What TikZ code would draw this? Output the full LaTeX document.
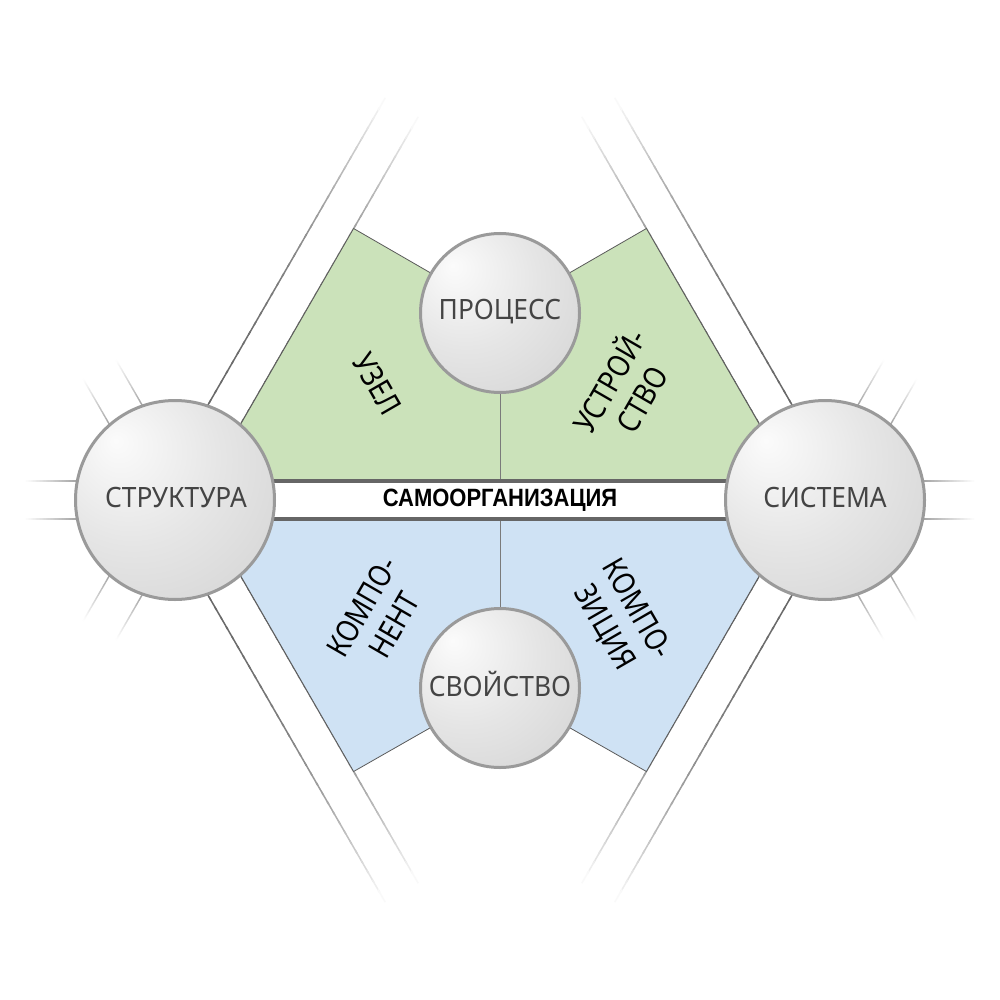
\documentclass[tikz,border=0pt]{standalone}
\usepackage{fontspec}
\usetikzlibrary{calc}
\setmainfont{Noto Sans}[FakeStretch=0.86]
\newfontfamily\ballfont{Noto Sans}[FakeStretch=0.94]
\newfontfamily\barfont{Liberation Sans}[FakeStretch=0.88]
\definecolor{grn}{HTML}{CBE2BA}
\definecolor{blu}{HTML}{CFE2F4}
\definecolor{ballrim}{HTML}{9A9A9A}
\definecolor{balltext}{HTML}{444444}
\definecolor{barline}{HTML}{666666}
\definecolor{polyline}{HTML}{5A5A5A}
\definecolor{vline}{HTML}{7A7A7A}
\definecolor{shA}{gray}{0.985}
\definecolor{shB}{gray}{0.90}
\definecolor{shC}{gray}{0.81}
\definecolor{shD}{gray}{0.73}
\pgfdeclareradialshading{myball}{\pgfpoint{-15bp}{15bp}}{color(0bp)=(shA); color(22bp)=(shB); color(50bp)=(shC); color(75bp)=(shD)}
\pgfdeclarelayer{back}
\pgfdeclarelayer{mid}
\pgfsetlayers{back,mid,main}
% gradient line: #1,#2 start; #3,#4 unit direction; #5,#6 t-range; #7 start darkness; #8 fade type (1 linear, 3 cubic); #9 width
\newcommand\gradseg[9]{%
  \foreach \k in {0,...,39}{%
    \pgfmathsetmacro\mystep{(#6-#5)/40}%
    \pgfmathsetmacro\myta{#5+\mystep*\k}%
    \pgfmathsetmacro\mytb{#5+\mystep*(\k+1.3)}%
    \pgfmathsetmacro\myff{(\k+0.5)/40}%
    \ifnum#8=3
      \pgfmathsetmacro\mypc{#7*(1-\myff*\myff*\myff)}%
    \else
      \pgfmathsetmacro\mypc{#7*(1-\myff)}%
    \fi
    \pgfmathsetmacro\myxa{#1+(\myta)*(#3)}%
    \pgfmathsetmacro\myya{#2+(\myta)*(#4)}%
    \pgfmathsetmacro\myxb{#1+(\mytb)*(#3)}%
    \pgfmathsetmacro\myyb{#2+(\mytb)*(#4)}%
    \draw[line width=#9, draw=black!\mypc] (\myxa,\myya) -- (\myxb,\myyb);
  }}
\begin{document}
\begin{tikzpicture}[x=1pt,y=-1pt,
  ball/.style={circle, minimum size=199pt, inner sep=0pt, shading=myball, draw=ballrim, line width=3pt},
  smallball/.style={ball, minimum size=159pt},
  balllbl/.style={anchor=base, text=balltext, font=\ballfont\fontsize{28}{32}\selectfont},
  sidelbl/.style={align=center, text=black, font=\fontsize{31}{37}\selectfont},
  barlbl/.style={anchor=base, text=black, font=\barfont\bfseries\fontsize{25}{30}\selectfont},
  poly/.style={draw=polyline, line width=0.8pt},
  barstroke/.style={draw=barline, line width=3.5pt},
  centreline/.style={draw=vline, line width=1pt}]
\useasboundingbox (0,0) rectangle (1000,1000);

% circles (main layer)
\node[ball] (S) at (175,500) {};
\node[ball] (T) at (825,500) {};
\node[smallball] (P) at (500,313) {};
\node[smallball] (V) at (500,688) {};

\node[balllbl] (Sl) at ($(S.center)+(1,7)$) {СТРУКТУРА};
\node[balllbl] (Tl) at ($(T.center)+(0,7)$) {СИСТЕМА};
\node[balllbl] (Pl) at ($(P.center)+(0,6)$) {ПРОЦЕСС};
\node[balllbl] (Vl) at ($(V.center)+(0,8)$) {СВОЙСТВО};

\coordinate (barT) at (500,481);
\coordinate (barB) at (500,519);
\node[barlbl] (B) at (500,506.5) {САМООРГАНИЗАЦИЯ};

\node[sidelbl, rotate=-60] (n1) at (377,384) {УЗЕЛ};
\node[sidelbl, rotate=60] (n2) at (624,389) {УСТРОЙ-\\СТВО};
\node[sidelbl, rotate=60] (n3) at (378,616) {КОМПО-\\НЕНТ};
\node[sidelbl, rotate=-60] (n4) at (620,619) {КОМПО-\\ЗИЦИЯ};

\begin{pgfonlayer}{back}
  \fill[white] (0,0) rectangle (1000,1000);
  % long fading bands
  \gradseg{191.45}{509.5}{0.5}{-0.866}{0}{450}{60}{3}{1.5pt}
  \gradseg{158.55}{490.5}{0.5}{-0.866}{0}{450}{60}{3}{1.5pt}
  \gradseg{841.45}{490.5}{-0.5}{-0.866}{0}{450}{60}{3}{1.5pt}
  \gradseg{808.55}{509.5}{-0.5}{-0.866}{0}{450}{60}{3}{1.5pt}
  \gradseg{191.45}{490.5}{0.5}{0.866}{0}{450}{60}{3}{1.5pt}
  \gradseg{158.55}{509.5}{0.5}{0.866}{0}{450}{60}{3}{1.5pt}
  \gradseg{841.45}{509.5}{-0.5}{0.866}{0}{450}{60}{3}{1.5pt}
  \gradseg{808.55}{490.5}{-0.5}{0.866}{0}{450}{60}{3}{1.5pt}
\end{pgfonlayer}

\begin{pgfonlayer}{mid}
  \path[poly, fill=grn] (207.9,481) -- (353.6,228.5) -- (P.center) -- (646.4,228.5) -- (792.1,481) -- cycle;
  \path[poly, fill=blu] (207.9,519) -- (353.6,771.5) -- (V.center) -- (646.4,771.5) -- (792.1,519) -- cycle;
  \draw[centreline] (P.center) -- (barT);
  \draw[centreline] (V.center) -- (barB);
  \draw[barstroke] (S.center |- barT) -- (T.center |- barT);
  \draw[barstroke] (S.center |- barB) -- (T.center |- barB);
  % short fading stubs
  \gradseg{175}{481}{-1}{0}{95}{150}{38}{1}{1.3pt}
  \gradseg{175}{519}{-1}{0}{95}{150}{38}{1}{1.3pt}
  \gradseg{191.45}{490.5}{-0.5}{-0.866}{95}{150}{38}{1}{1.3pt}
  \gradseg{158.55}{509.5}{-0.5}{-0.866}{95}{150}{38}{1}{1.3pt}
  \gradseg{191.45}{509.5}{-0.5}{0.866}{95}{150}{38}{1}{1.3pt}
  \gradseg{158.55}{490.5}{-0.5}{0.866}{95}{150}{38}{1}{1.3pt}
  \gradseg{825}{481}{1}{0}{95}{150}{38}{1}{1.3pt}
  \gradseg{825}{519}{1}{0}{95}{150}{38}{1}{1.3pt}
  \gradseg{841.45}{509.5}{0.5}{-0.866}{95}{150}{38}{1}{1.3pt}
  \gradseg{808.55}{490.5}{0.5}{-0.866}{95}{150}{38}{1}{1.3pt}
  \gradseg{841.45}{490.5}{0.5}{0.866}{95}{150}{38}{1}{1.3pt}
  \gradseg{808.55}{509.5}{0.5}{0.866}{95}{150}{38}{1}{1.3pt}
\end{pgfonlayer}
\end{tikzpicture}
\end{document}
